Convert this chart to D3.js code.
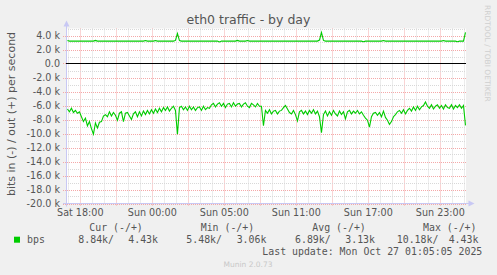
<!DOCTYPE html>
<html>
<head>
<meta charset="utf-8">
<script src="https://cdn.jsdelivr.net/npm/d3@7/dist/d3.min.js"></script>
<style>
body{margin:0;background:#f0f0f0;}
text{font-family:"DejaVu Sans";}
.mono{font-family:"DejaVu Sans Mono";white-space:pre;}
</style>
</head>
<body>
<div id="chart"></div>
<script>
// 数据: 每10分钟一个点 (单位 k bits/s)
var pointStartHour = 16.93
var pointStepHours = 1/6

var outValues = [
    3.3,3.2,3.2,3.2,3.2,3.2,3.2,3.2,3.2,3.2,
    3.2,3.2,3.2,3.2,3.3,3.2,3.2,3.2,3.2,3.2,
    3.2,3.2,3.2,3.2,3.2,3.2,3.2,3.2,3.2,3.2,
    3.2,3.2,3.2,3.2,3.2,3.2,3.2,3.2,3.2,3.28,
    3.2,3.2,3.2,3.2,3.28,3.2,3.2,3.2,3.2,3.2,
    3.2,3.2,3.2,3.2,3.3,4.3,3.28,3.2,3.2,3.2,
    3.2,3.2,3.2,3.2,3.2,3.2,3.2,3.2,3.2,3.2,
    3.2,3.2,3.2,3.2,3.2,3.2,3.08,3.2,3.2,3.2,
    3.2,3.2,3.2,3.2,3.2,3.3,3.2,3.2,3.2,3.2,
    3.28,3.2,3.2,3.2,3.2,3.2,3.2,3.2,3.2,3.2,
    3.2,3.2,3.2,3.2,3.2,3.2,3.2,3.2,3.2,3.2,
    3.2,3.2,3.2,3.2,3.2,3.2,3.2,3.2,3.2,3.2,
    3.2,3.2,3.2,3.2,3.2,3.2,3.35,4.43,3.3,3.2,
    3.2,3.2,3.2,3.2,3.2,3.2,3.2,3.2,3.2,3.2,
    3.2,3.2,3.2,3.2,3.2,3.2,3.2,3.2,3.12,3.2,
    3.2,3.2,3.2,3.2,3.2,3.2,3.2,3.2,3.28,3.2,
    3.2,3.2,3.2,3.2,3.2,3.2,3.2,3.2,3.2,3.2,
    3.2,3.2,3.2,3.2,3.2,3.2,3.2,3.2,3.2,3.2,
    3.2,3.2,3.2,3.2,3.2,3.2,3.2,3.2,3.28,3.2,
    3.2,3.2,3.2,3.2,3.2,3.12,3.2,3.2,3.2,4.43
]

var inValues = [
    6.5,6.9,6.4,7.0,6.7,7.1,6.9,7.6,8.3,7.8,
    8.9,8.3,9.3,10.1,8.5,9.2,8.4,8.3,7.5,7.3,
    7.6,6.9,7.5,7.0,7.4,8.1,7.1,6.9,8.3,7.1,
    7.0,7.5,8.0,7.2,6.9,7.6,6.9,7.5,6.8,7.3,
    6.7,7.2,6.6,7.1,6.5,7.0,6.4,6.9,6.3,6.7,
    6.2,6.8,6.4,6.1,6.7,10.1,6.3,6.1,6.6,6.2,
    6.7,6.1,6.6,6.2,6.7,6.3,6.2,6.7,6.1,6.6,
    6.3,6.4,5.9,5.7,6.2,5.8,5.6,6.1,5.7,6.3,
    5.8,5.7,6.2,5.6,6.1,5.8,5.7,6.2,5.8,5.6,
    6.1,6.3,5.7,5.9,6.2,5.7,6.1,6.1,8.9,6.7,
    7.1,6.6,7.2,6.8,6.7,7.2,6.8,6.7,6.3,6.0,
    6.5,7.0,7.2,6.7,7.3,8.2,6.9,6.7,7.2,6.8,
    7.3,6.7,7.1,6.6,7.2,6.8,7.6,9.9,7.3,6.8,
    7.5,6.9,7.4,6.7,7.2,7.5,6.8,7.3,6.9,7.9,
    6.9,6.7,7.2,6.8,7.1,6.7,7.2,6.9,7.4,7.8,
    8.1,9.1,7.6,7.1,7.0,7.4,7.0,7.6,6.8,7.7,
    8.1,8.7,8.3,7.6,7.3,6.9,6.7,7.1,6.6,7.2,
    6.7,6.4,6.8,6.2,6.7,6.1,6.6,6.2,6.0,5.5,
    6.1,6.4,5.9,6.5,6.1,5.9,6.4,6.0,6.5,5.9,
    6.3,6.4,5.9,6.5,6.0,6.3,5.9,6.4,6.0,8.84
]

// 坐标轴刻度
var xTickHours = [18,24,30,36,42,48]
var xTickLabels = ["Sat 18:00","Sun 00:00","Sun 05:00","Sun 11:00","Sun 17:00","Sun 23:00"]
var yTickValues = [4,2,0,-2,-4,-6,-8,-10,-12,-14,-16,-18,-20]

// 图例
var legendCols = ["Cur (-/+)","Min (-/+)","Avg (-/+)","Max (-/+)"]
var inStats = [8.84,5.48,6.89,10.18]
var outStats = [4.43,3.06,3.13,4.43]
var lastUpdate = "Last update: Mon Oct 27 01:05:05 2025"

var width = 497
var height = 275
var green = "#00cc00"
var textColor = "#555"

var svg = d3.select("#chart").append("svg")
    .attr("width",width)
    .attr("height",height)
    .style("display","block")

svg.append("rect").attr("width",width).attr("height",height).attr("fill","#f0f0f0")

var scaleX = d3.scaleLinear().domain([16.81,50.14]).range([66,466])
var scaleY = d3.scaleLinear().domain([-20,5]).range([203.5,28.5])

svg.append("rect")
    .attr("x",scaleX.range()[0]).attr("y",scaleY(5))
    .attr("width",scaleX.range()[1]-scaleX.range()[0])
    .attr("height",scaleY(-20)-scaleY(5))
    .attr("fill","#fff")

// 网格
var hours = d3.range(Math.ceil(scaleX.domain()[0]),scaleX.domain()[1])
svg.append("g").selectAll("line")
    .data(hours)
    .join("line")
    .attr("x1",d=>Math.round(scaleX(d))+0.5)
    .attr("x2",d=>Math.round(scaleX(d))+0.5)
    .attr("y1",scaleY(5))
    .attr("y2",d=>d%3==0 ? scaleY(-20)+3 : scaleY(-20))
    .attr("stroke",d=>d%3==0 ? "#f4a8a8" : "#d8d8d8")
    .attr("stroke-dasharray","1,1")

var kLines = d3.range(-20,6)
svg.append("g").selectAll("line")
    .data(kLines)
    .join("line")
    .attr("x1",d=>d%2==0 ? scaleX.range()[0]-3 : scaleX.range()[0])
    .attr("x2",scaleX.range()[1])
    .attr("y1",d=>Math.round(scaleY(d))+0.5)
    .attr("y2",d=>Math.round(scaleY(d))+0.5)
    .attr("stroke",d=>d%2==0 ? "#f4a8a8" : "#d8d8d8")
    .attr("stroke-dasharray","1,1")

// 轴线和箭头
var axisColor = "#c8c8f4"
svg.append("line")
    .attr("x1",66.5).attr("x2",66.5)
    .attr("y1",scaleY(-20)+3).attr("y2",24)
    .attr("stroke",axisColor)
svg.append("line")
    .attr("x1",63).attr("x2",470)
    .attr("y1",scaleY(-20)).attr("y2",scaleY(-20))
    .attr("stroke",axisColor)
svg.append("path")
    .attr("d","M63.5 26.5 L66.5 20.5 L69.5 26.5 Z")
    .attr("fill",axisColor)
svg.append("path")
    .attr("d","M468.5 200.5 L474.5 203.5 L468.5 206.5 Z")
    .attr("fill",axisColor)

// 零线
svg.append("line")
    .attr("x1",scaleX.range()[0]).attr("x2",scaleX.range()[1])
    .attr("y1",Math.round(scaleY(0))+0.5).attr("y2",Math.round(scaleY(0))+0.5)
    .attr("stroke","#000")

// 刻度文字
svg.append("g").selectAll("text")
    .data(yTickValues)
    .join("text")
    .attr("x",60)
    .attr("y",d=>scaleY(d))
    .attr("dy","0.36em")
    .attr("text-anchor","end")
    .attr("font-size","9.6px")
    .attr("fill",textColor)
    .text(d=>d==0 ? "0.0" : d.toFixed(1)+" k")

svg.append("g").selectAll("text")
    .data(xTickHours)
    .join("text")
    .attr("x",d=>scaleX(d))
    .attr("y",215.7)
    .attr("text-anchor","middle")
    .attr("font-size","9.6px")
    .attr("fill",textColor)
    .text((d,i)=>xTickLabels[i])

// 数据线
var line = d3.line()
    .x((d,i)=>scaleX(pointStartHour+i*pointStepHours))
    .y(d=>scaleY(d))

svg.append("path")
    .datum(outValues)
    .attr("d",line)
    .attr("fill","none")
    .attr("stroke",green)
    .attr("stroke-width",1.1)

svg.append("path")
    .datum(inValues.map(v=>-v))
    .attr("d",line)
    .attr("fill","none")
    .attr("stroke",green)
    .attr("stroke-width",1.1)

// 标题
svg.append("text")
    .attr("x",248.5).attr("y",24)
    .attr("text-anchor","middle")
    .attr("font-size","12.5px")
    .attr("fill",textColor)
    .text("eth0 traffic - by day")

svg.append("text")
    .attr("transform","translate(14.5,114) rotate(-90)")
    .attr("text-anchor","middle")
    .attr("font-size","11px")
    .attr("fill",textColor)
    .text("bits in (-) / out (+) per second")

svg.append("text")
    .attr("transform","translate(484.5,5) rotate(90)")
    .attr("font-size","7.5px")
    .attr("fill","#cfcfcf")
    .text("RRDTOOL / TOBI OETIKER")

// 图例
var headX = [89.3,200.7,312.3,423]
var inEndX = [114,222,330.7,438.4]
var outEndX = [158,266.4,375,478.4]
var fmt = v=>v.toFixed(2)+"k"

svg.append("g").selectAll("text")
    .data(legendCols)
    .join("text")
    .attr("class","mono")
    .attr("x",(d,i)=>headX[i])
    .attr("y",230.7)
    .attr("font-size","9.9px")
    .attr("fill",textColor)
    .text(d=>d)

svg.append("rect")
    .attr("x",14).attr("y",236.7)
    .attr("width",6).attr("height",6)
    .attr("fill",green)

svg.append("text")
    .attr("class","mono")
    .attr("x",27).attr("y",242.5)
    .attr("font-size","9.9px")
    .attr("fill",textColor)
    .text("bps")

svg.append("g").selectAll("text")
    .data(inStats)
    .join("text")
    .attr("class","mono")
    .attr("x",(d,i)=>inEndX[i])
    .attr("y",242.5)
    .attr("text-anchor","end")
    .attr("font-size","9.9px")
    .attr("fill",textColor)
    .text(d=>fmt(d)+"/")

svg.append("g").selectAll("text")
    .data(outStats)
    .join("text")
    .attr("class","mono")
    .attr("x",(d,i)=>outEndX[i])
    .attr("y",242.5)
    .attr("text-anchor","end")
    .attr("font-size","9.9px")
    .attr("fill",textColor)
    .text(d=>fmt(d))

svg.append("text")
    .attr("class","mono")
    .attr("x",482.3).attr("y",254.5)
    .attr("text-anchor","end")
    .attr("font-size","9.9px")
    .attr("fill",textColor)
    .text(lastUpdate)

svg.append("text")
    .attr("x",248).attr("y",266.7)
    .attr("text-anchor","middle")
    .attr("font-size","7.5px")
    .attr("fill","#c8c8c8")
    .text("Munin 2.0.73")
</script>
</body>
</html>
